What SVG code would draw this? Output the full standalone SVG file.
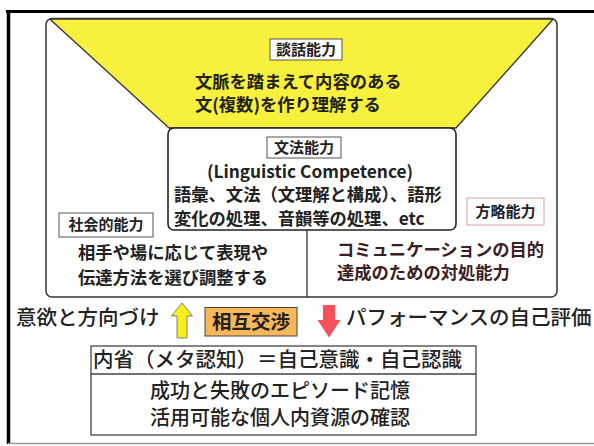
<svg xmlns="http://www.w3.org/2000/svg" width="594" height="446" viewBox="0 0 594 446">
<style>
text{font-family:"Noto Sans CJK JP","Noto Sans",sans-serif;fill:#222}
.b{font-weight:700;font-size:17.3px}
.lbl{font-weight:700;font-size:15px}
.m{font-weight:500;font-size:20.5px}
.lb{fill:#fff;stroke:#555;stroke-width:1}
.red{fill:#3a2023}
</style>
<rect x="0" y="0" width="594" height="446" fill="#fff"/>
<g id="frame">
<line x1="6" y1="11.5" x2="594" y2="11.5" stroke="#000" stroke-width="3"/>
<line x1="8.5" y1="10" x2="8.5" y2="444" stroke="#000" stroke-width="3.5"/>
<line x1="8" y1="443.5" x2="594" y2="443.5" stroke="#999" stroke-width="1.5"/>
</g>
<g id="outer">
<rect x="46" y="18.5" width="511" height="278.5" rx="6" fill="#fff" stroke="#333" stroke-width="1.5"/>
</g>
<g id="discourse">
<path d="M50,19.2 L553,19.2 L456,128 L169,128 Z" fill="#f7f03c" stroke="#333" stroke-width="1.3" stroke-linejoin="round"/>
<rect class="lb" x="270" y="39" width="72" height="21"/>
<text class="lbl" x="306" y="55" text-anchor="middle">談話能力</text>
<text class="b"><tspan x="195" y="88">文脈を踏まえて内容のある</tspan><tspan x="195" y="111">文(複数)を作り理解する</tspan></text>
</g>
<g id="grammar">
<rect x="168" y="128" width="288" height="102" rx="6" fill="#fff" stroke="#222" stroke-width="1.6"/>
<rect class="lb" x="267" y="137" width="74" height="21"/>
<text class="lbl" x="304" y="153" text-anchor="middle">文法能力</text>
<text class="b"><tspan x="310" y="178" text-anchor="middle">(Linguistic Competence)</tspan><tspan x="174" y="201">語彙、文法（文理解と構成）、語形</tspan><tspan x="174" y="225">変化の処理、音韻等の処理、etc</tspan></text>
</g>
<g id="connectors">
<line x1="307" y1="230" x2="307" y2="297" stroke="#333" stroke-width="1.3"/>
<path d="M182,303 L192.5,316 L187,316 L187,338 L177,338 L177,316 L171.5,316 Z" fill="#f7f01e" stroke="#666" stroke-width="0.8"/>
<path d="M323,305 L335,305 L335,320 L340.5,320 L329,337.5 L317.5,320 L323,320 Z" fill="#f5505c"/>
</g>
<g id="social">
<rect class="lb" x="59" y="213" width="94" height="24"/>
<text class="lbl" x="106" y="230" text-anchor="middle">社会的能力</text>
<text class="b"><tspan x="78" y="259">相手や場に応じて表現や</tspan><tspan x="78" y="284">伝達方法を選び調整する</tspan></text>
</g>
<g id="strategic">
<rect x="467" y="198" width="77" height="27" fill="#fff" stroke="#d9a0a6" stroke-width="1"/>
<text class="lbl" x="505.5" y="217" text-anchor="middle">方略能力</text>
<text class="b red"><tspan x="337" y="256">コミュニケーションの目的</tspan><tspan x="337" y="279">達成のための対処能力</tspan></text>
</g>
<g id="motivation">
<text class="m" x="16" y="325">意欲と方向づけ</text>
</g>
<g id="interaction">
<rect x="205" y="307.5" width="92" height="28.5" fill="#f8b65a" stroke="#444" stroke-width="1"/>
<text x="251" y="328.5" text-anchor="middle" style="font-size:19.5px;font-weight:700">相互交渉</text>
</g>
<g id="evaluation">
<text class="m" x="346" y="325">パフォーマンスの自己評価</text>
</g>
<g id="reflection">
<rect x="91" y="346" width="385" height="89" fill="#fff" stroke="#444" stroke-width="1.3"/>
<line x1="91" y1="374" x2="476" y2="374" stroke="#444" stroke-width="1.3"/>
<text class="m" x="93" y="367">内省（メタ認知）＝自己意識・自己認識</text>
<text class="m" style="font-size:20px"><tspan x="150" y="398">成功と失敗のエピソード記憶</tspan><tspan x="150" y="424.5">活用可能な個人内資源の確認</tspan></text>
</g>
</svg>
